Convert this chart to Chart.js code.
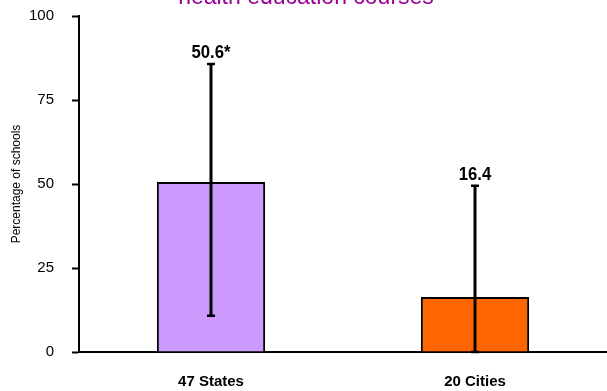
<!DOCTYPE html>
<html>
<head>
<meta charset="utf-8">
<script src="https://cdn.jsdelivr.net/npm/chart.js@4"></script>
<style>
  html, body { margin: 0; padding: 0; background: #fff; }
  #wrap { width: 607px; height: 391px; position: relative; }
</style>
</head>
<body>
<div id="wrap"><canvas id="c"></canvas></div>
<script>
// Share of schools, with 95% confidence intervals
const categories = ['47 States', '20 Cities'];
const values = [50.6, 16.4];
const valueLabels = ['50.6*', '16.4'];
const ciLow = [10.8, 0];
const ciHigh = [85.7, 49.5];
const barColors = ['#CC99FF', '#FF6600'];
const yTicks = [0, 25, 50, 75, 100];
const titleText = 'health education courses';

const FONT = "'Liberation Sans', Arial, sans-serif";

// Title sits at the very top edge of the canvas
const titlePlugin = {
  id: 'topTitle',
  afterDraw(chart) {
    const ctx = chart.ctx;
    ctx.save();
    ctx.font = "23px " + FONT;
    ctx.fillStyle = '#990099';
    ctx.textAlign = 'center';
    ctx.textBaseline = 'alphabetic';
    ctx.fillText(titleText, 306, 4);
    ctx.restore();
  }
};

// Confidence-interval whiskers and value labels
const errorBarPlugin = {
  id: 'errorBars',
  afterDatasetsDraw(chart) {
    const ctx = chart.ctx;
    const y = chart.scales.y;
    const meta = chart.getDatasetMeta(0);
    ctx.save();
    meta.data.forEach((bar, i) => {
      const x = bar.x;
      const yHi = y.getPixelForValue(ciHigh[i]);
      const yLo = y.getPixelForValue(ciLow[i]);
      ctx.strokeStyle = '#000';
      ctx.lineWidth = 3;
      ctx.beginPath();
      ctx.moveTo(x, yHi);
      ctx.lineTo(x, yLo);
      ctx.stroke();
      ctx.lineWidth = 2.5;
      ctx.beginPath();
      ctx.moveTo(x - 4, yHi);
      ctx.lineTo(x + 4, yHi);
      ctx.moveTo(x - 4, yLo);
      ctx.lineTo(x + 4, yLo);
      ctx.stroke();

      // condensed bold label above the whisker
      ctx.fillStyle = '#000';
      ctx.font = "bold 19px " + FONT;
      ctx.textAlign = 'center';
      ctx.textBaseline = 'alphabetic';
      ctx.save();
      ctx.translate(x, yHi - 6);
      ctx.scale(0.88, 1);
      ctx.fillText(valueLabels[i], 0, 0);
      ctx.restore();
    });
    ctx.restore();
  }
};

new Chart(document.getElementById('c'), {
  type: 'bar',
  data: {
    labels: categories,
    datasets: [{
      data: values,
      backgroundColor: barColors,
      borderColor: '#000',
      borderWidth: 2,
      borderSkipped: 'bottom',
      barPercentage: 1,
      categoryPercentage: 0.41
    }]
  },
  options: {
    responsive: true,
    maintainAspectRatio: false,
    animation: false,
    layout: { padding: { top: 16, right: 0, left: 0, bottom: 0 } },
    plugins: {
      legend: { display: false },
      tooltip: { enabled: false },
      title: { display: false }
    },
    scales: {
      x: {
        grid: { display: false, drawTicks: false },
        border: { display: true, color: '#000', width: 2 },
        ticks: {
          color: '#000',
          font: { family: FONT, size: 15, weight: 'bold' },
          padding: 21
        },
        afterFit(scale) { scale.height = 39; }
      },
      y: {
        min: 0,
        max: 100,
        afterBuildTicks(scale) { scale.ticks = yTicks.map(v => ({ value: v })); },
        grid: { display: true, drawOnChartArea: false, drawTicks: true, tickLength: 7, tickColor: '#000', tickWidth: 2 },
        border: { display: true, color: '#000', width: 2 },
        ticks: {
          color: '#000',
          font: { family: FONT, size: 15 },
          padding: 18
        },
        title: {
          display: true,
          text: 'Percentage of schools',
          color: '#000',
          font: { family: FONT, size: 12 },
          padding: { top: 9, bottom: 0 }
        },
        afterFit(scale) {
          scale.width = 79;
          scale.paddingTop = 0;
          scale.paddingBottom = 0;
        }
      }
    }
  },
  plugins: [titlePlugin, errorBarPlugin]
});
</script>
</body>
</html>
